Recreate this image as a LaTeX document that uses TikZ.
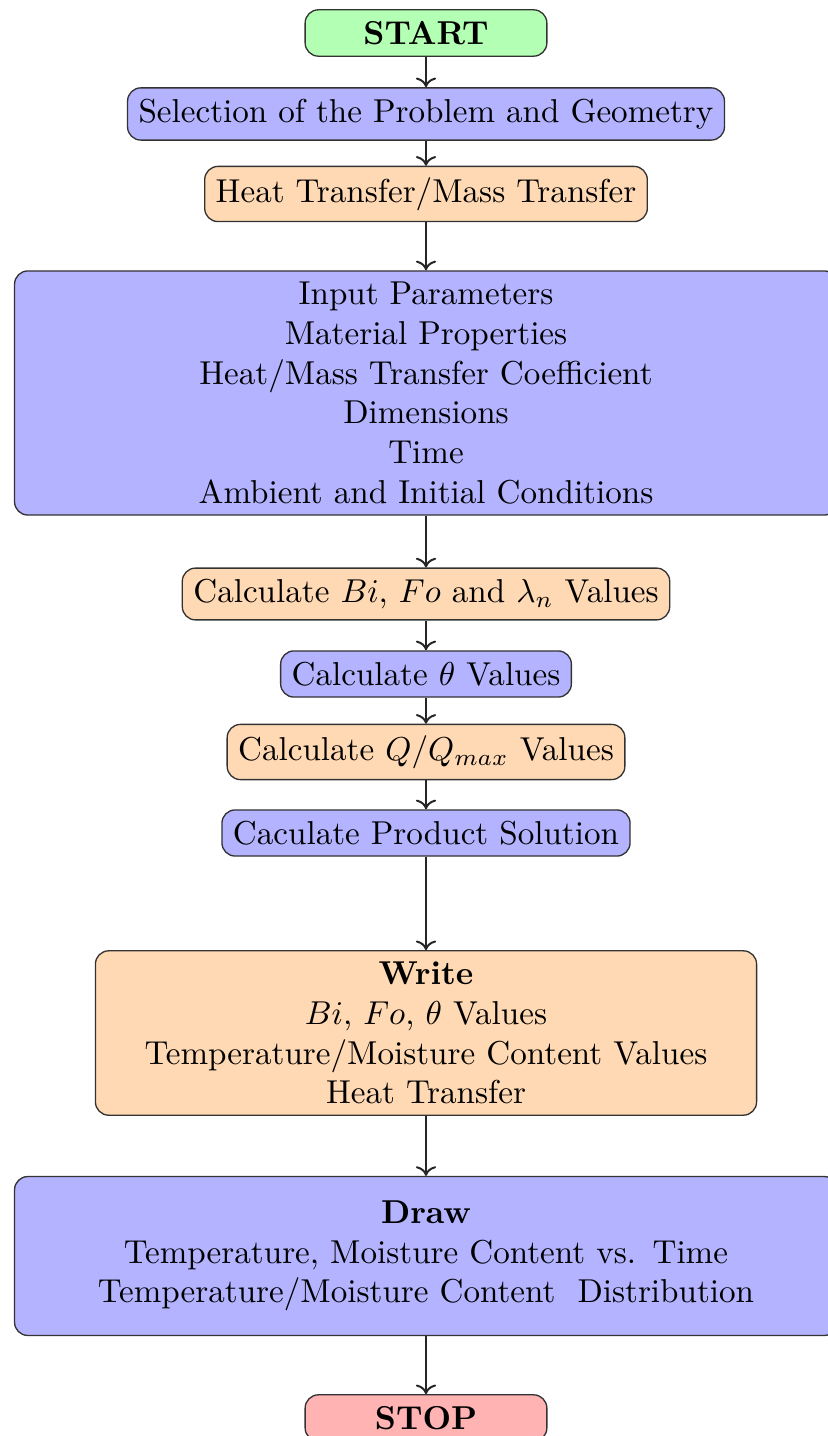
\documentclass[tikz,border=0pt]{standalone}
\usepackage{amsmath,amssymb}
\usepackage{tikz}
\usetikzlibrary{arrows.meta}
\definecolor{TermGreen}{RGB}{179,255,179}
\definecolor{TermRed}{RGB}{255,179,179}
\definecolor{StepBlue}{RGB}{179,179,255}
\definecolor{StepPeach}{RGB}{255,217,179}
\tikzset{
  term/.style={draw=black!80,rounded corners=4pt,minimum width=73pt,
    minimum height=14pt,font=\bfseries},
  blue/.style={draw=black!80,fill=StepBlue,rounded corners=4pt,align=center},
  peach/.style={draw=black!80,fill=StepPeach,rounded corners=4pt,align=center},
  flow/.style={draw=black!85,semithick,-{To}},
}
\begin{document}
\begin{tikzpicture}[x=0.302pt,y=-0.302pt]
\useasboundingbox (0,0) rectangle (827,1436);
\node[term,fill=TermGreen] (start) at (426,33) {START};
\node[blue] (select) at (426,114) {Selection of the Problem and Geometry};
\node[peach] (kind) at (426,194) {Heat Transfer/Mass Transfer};
\node[blue,text width=8.5cm] (input) at (426,393) {Input Parameters\\
  Material Properties\\ Heat/Mass Transfer Coefficient\\ Dimensions\\ Time\\
  Ambient and Initial Conditions};
\node[peach] (calc) at (426,594) {Calculate $Bi$, $Fo$ and $\lambda_n$ Values};
\node[blue] (theta) at (426,674) {Calculate $\theta$ Values};
\node[peach] (ratio) at (426,752) {Calculate $Q/Q_{max}$ Values};
\node[blue] (prod) at (426,833) {Caculate Product Solution};
\node[peach,text width=193pt] (write) at (426,1033) {\textbf{Write}\\
  $Bi$, $Fo$, $\theta$ Values\\ Temperature/Moisture Content Values\\ Heat Transfer};
\node[blue,text width=8.5cm,minimum height=48pt] (plot) at (426,1256) {\textbf{Draw}\\
  Temperature, Moisture Content vs. Time\\
  Temperature/Moisture Content~ Distribution};
\node[term,fill=TermRed] (stop) at (426,1418) {STOP};
\foreach \u/\v in {start/select,select/kind,kind/input,input/calc,calc/theta,
  theta/ratio,ratio/prod,prod/write,write/plot,plot/stop}
  \draw[flow] (\u)--(\v);
\end{tikzpicture}
\end{document}
